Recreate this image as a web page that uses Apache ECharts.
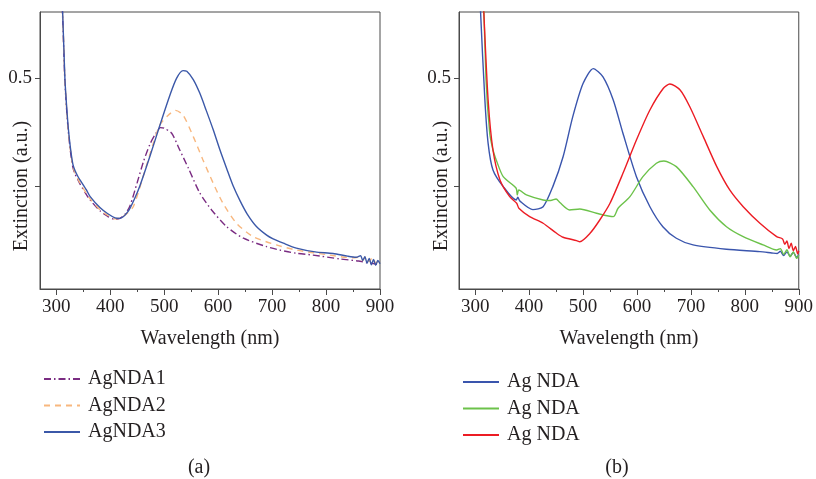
<!DOCTYPE html>
<html>
<head>
<meta charset="utf-8">
<script src="https://cdn.jsdelivr.net/npm/echarts@6/dist/echarts.min.js"></script>
<style>html,body{margin:0;padding:0;background:#fff}#c{width:816px;height:479px}</style>
</head>
<body>
<div id="c"></div>
<script>
// ---- Panel (a) ----
const a1X = [306,312,316,319,322,325,328,331,335,340,344,356,363,381,395,409,418,428,437,450,462,474,485,493,500,514,529,545,566,588,616,647,690,714,745,776,826,860,875,890,900];
const a1Y = [0.62,0.556,0.498,0.473,0.453,0.438,0.426,0.417,0.411,0.406,0.402,0.392,0.387,0.377,0.372,0.369,0.370,0.374,0.382,0.403,0.423,0.439,0.449,0.454,0.4535,0.4488,0.4333,0.4164,0.3936,0.3778,0.3623,0.3516,0.3438,0.3407,0.3377,0.336,0.3324,0.3305,0.329,0.328,0.327];
const a2X = [306,312,316,319,322,325,328,331,335,340,344,356,363,381,395,409,418,430,443,461,480,492,505,521,535,554,572,591,609,634,665,708,745,800,850,862,868,874,880,886,892,900];
const a2Y = [0.62,0.557,0.499,0.474,0.454,0.439,0.427,0.418,0.412,0.407,0.403,0.393,0.388,0.378,0.373,0.3695,0.3705,0.374,0.381,0.4086,0.4395,0.4565,0.4642,0.470,0.4657,0.4457,0.4241,0.4025,0.384,0.3655,0.3531,0.3454,0.3407,0.3365,0.3335,0.334,0.331,0.335,0.330,0.334,0.329,0.331];
const a3X = [306,312,316,319,322,325,328,331,335,340,344,356,363,381,395,409,418,434,445,455,474,492,511,523,535,542,554,566,578,591,603,616,628,641,654,671,690,702,721,745,780,813,840,856,864,868,872,876,880,884,888,892,896,900];
const a3Y = [0.62,0.56,0.501,0.476,0.456,0.441,0.429,0.420,0.414,0.409,0.4056,0.3963,0.3901,0.380,0.3745,0.3705,0.370,0.377,0.388,0.400,0.428,0.456,0.4845,0.4997,0.5068,0.5062,0.4985,0.486,0.470,0.452,0.434,0.416,0.400,0.386,0.374,0.3625,0.3545,0.351,0.347,0.3425,0.339,0.3375,0.335,0.334,0.3355,0.331,0.3345,0.3285,0.333,0.327,0.332,0.3265,0.331,0.328];

// ---- Panel (b) ----
const bBlueX = [306,310,318,324,333,352,376,379,383,407,426,444,463,481,500,519,537,556,574,599,624,648,673,704,766,828,850,860,866,872,878,884,890,896,900];
const bBlueY = [0.62,0.561,0.4796,0.4395,0.4148,0.3994,0.387,0.3895,0.386,0.3781,0.3808,0.3994,0.4271,0.4642,0.4948,0.5087,0.501,0.4796,0.4488,0.4086,0.3808,0.3623,0.3516,0.3454,0.3414,0.3392,0.338,0.3375,0.3395,0.3355,0.339,0.335,0.3385,0.334,0.3365];
const bGreenX = [313,320,327,333,339,352,376,378,381,395,426,440,450,457,475,494,525,556,565,587,611,636,650,673,704,735,766,797,834,859,866,872,878,884,890,896,900];
const bGreenY = [0.62,0.50,0.4488,0.4333,0.4241,0.4086,0.3979,0.3917,0.3963,0.3917,0.387,0.3865,0.3880,0.3847,0.3778,0.3787,0.3747,0.3716,0.3794,0.3901,0.4086,0.421,0.4231,0.4179,0.3994,0.3778,0.3623,0.3531,0.3454,0.3407,0.342,0.3365,0.341,0.3345,0.339,0.333,0.336];
const bRedX = [311,316,324,333,346,364,377,381,401,426,451,463,488,494,513,531,550,574,599,624,649,661,680,698,723,748,772,797,828,859,870,874,878,882,886,890,894,898,900];
const bRedY = [0.62,0.561,0.4796,0.4333,0.4056,0.3901,0.384,0.3794,0.3716,0.3655,0.3562,0.3525,0.3494,0.3484,0.3562,0.3685,0.384,0.4117,0.4426,0.4704,0.4905,0.4944,0.4889,0.4734,0.4457,0.4179,0.3963,0.3808,0.3655,0.3531,0.351,0.346,0.349,0.342,0.347,0.340,0.344,0.337,0.340];

const xMajor = [300,400,500,600,700,800,900];
const xMinor = [350,450,550,650,750,850];
const yTicks = [0.4,0.5];
const yLabels = [0.5];

const zip = (xs, ys) => xs.map((x, i) => [x, ys[i]]);
const FONT = '"Liberation Serif", "Times New Roman", serif';
const TXT = '#231f20';
const AX = '#4a4a4a';

function grids(left) {
  return { left: left, top: 12, width: 340, height: 277, show: true, borderColor: AX, borderWidth: 1, backgroundColor: 'transparent' };
}
function xMain(gi) {
  return {
    type: 'value', gridIndex: gi, min: 270, max: 900, position: 'bottom',
    axisLine: { show: true, lineStyle: { color: AX, width: 1 } },
    axisTick: { show: true, inside: false, length: 6, customValues: xMajor, lineStyle: { color: AX } },
    axisLabel: { show: true, customValues: xMajor, margin: 9, color: TXT, fontFamily: FONT, fontSize: 19 },
    splitLine: { show: false }
  };
}
function xMinorAx(gi) {
  return {
    type: 'value', gridIndex: gi, min: 270, max: 900, position: 'bottom',
    axisLine: { show: false },
    axisTick: { show: true, inside: false, length: 3, customValues: xMinor, lineStyle: { color: AX } },
    axisLabel: { show: false },
    splitLine: { show: false }
  };
}
function yAx(gi) {
  return {
    type: 'value', gridIndex: gi, min: 0.3046, max: 0.5611,
    axisLine: { show: true, lineStyle: { color: AX, width: 1 } },
    axisTick: { show: true, inside: false, length: 5, customValues: yTicks, lineStyle: { color: AX } },
    axisLabel: { show: true, customValues: yLabels, margin: 8, color: TXT, fontFamily: FONT, fontSize: 19, formatter: v => v.toFixed(1) },
    splitLine: { show: false }
  };
}
function line(name, xi, yi, data, color, type) {
  return {
    name: name, type: 'line', xAxisIndex: xi, yAxisIndex: yi, data: data,
    showSymbol: false, symbol: 'none', smooth: 0.25, animation: false, clip: true,
    lineStyle: { color: color, width: 1.4, type: type || 'solid' },
    itemStyle: { color: color }
  };
}

const legendCommon = {
  orient: 'vertical', itemWidth: 36, itemHeight: 14, itemGap: 6.5,
  itemStyle: { opacity: 0, borderWidth: 0 },
  textStyle: { fontFamily: FONT, fontSize: 20, color: TXT, lineHeight: 20, padding: [0, 0, 0, 3] },
  selectedMode: false
};

const chart = echarts.init(document.getElementById('c'), null, { renderer: 'canvas' });
chart.setOption({
  backgroundColor: '#fff',
  animation: false,
  grid: [grids(40), grids(459)],
  xAxis: [xMain(0), xMinorAx(0), xMain(1), xMinorAx(1)],
  yAxis: [yAx(0), yAx(1)],
  legend: [
    Object.assign({}, legendCommon, { data: ['AgNDA1', 'AgNDA2', 'AgNDA3'], left: 38, top: 364 }),
    Object.assign({}, legendCommon, { data: ['Ag NDA b1', 'Ag NDA b2', 'Ag NDA b3'], left: 457, top: 367, formatter: () => 'Ag NDA' })
  ],
  series: [
    line('AgNDA1', 0, 0, zip(a1X, a1Y), '#7a2c82', [7, 3, 1.5, 3]),
    line('AgNDA2', 0, 0, zip(a2X, a2Y), '#f8b77e', [6, 5]),
    line('AgNDA3', 0, 0, zip(a3X, a3Y), '#3b58a8'),
    line('Ag NDA b1', 2, 1, zip(bBlueX, bBlueY), '#3a55ad'),
    line('Ag NDA b2', 2, 1, zip(bGreenX, bGreenY), '#6cc24a'),
    line('Ag NDA b3', 2, 1, zip(bRedX, bRedY), '#ec1c24')
  ],
  graphic: [
    { type: 'text', x: 210, y: 339, style: { text: 'Wavelength (nm)', fontFamily: FONT, fontSize: 20, fill: TXT, textAlign: 'center', textVerticalAlign: 'middle' } },
    { type: 'text', x: 629, y: 339, style: { text: 'Wavelength (nm)', fontFamily: FONT, fontSize: 20, fill: TXT, textAlign: 'center', textVerticalAlign: 'middle' } },
    { type: 'text', x: 22, y: 186, rotation: Math.PI / 2, style: { text: 'Extinction (a.u.)', fontFamily: FONT, fontSize: 20, fill: TXT, textAlign: 'center', textVerticalAlign: 'middle' } },
    { type: 'text', x: 442, y: 186, rotation: Math.PI / 2, style: { text: 'Extinction (a.u.)', fontFamily: FONT, fontSize: 20, fill: TXT, textAlign: 'center', textVerticalAlign: 'middle' } },
    { type: 'text', x: 199, y: 468, style: { text: '(a)', fontFamily: FONT, fontSize: 20, fill: TXT, textAlign: 'center', textVerticalAlign: 'middle' } },
    { type: 'text', x: 617, y: 468, style: { text: '(b)', fontFamily: FONT, fontSize: 20, fill: TXT, textAlign: 'center', textVerticalAlign: 'middle' } }
  ]
});
</script>
</body>
</html>
